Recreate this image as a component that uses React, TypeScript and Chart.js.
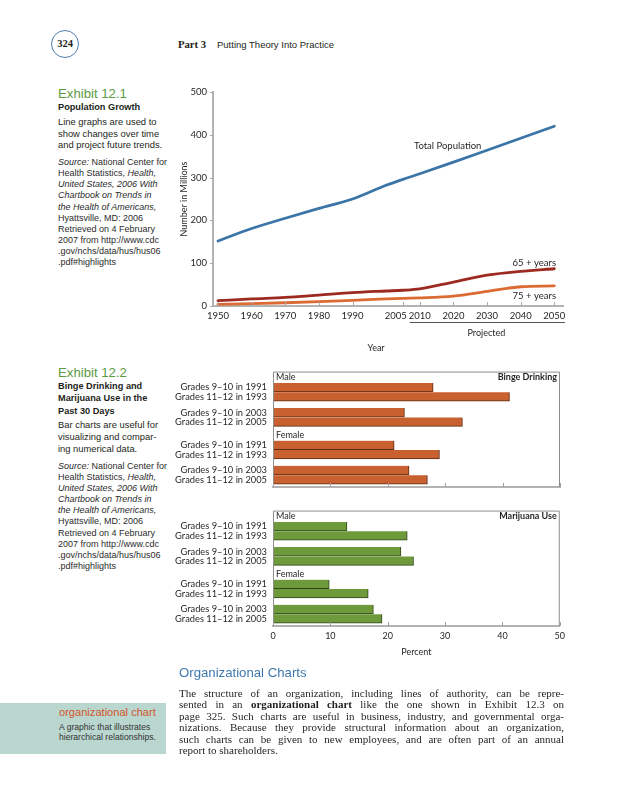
import React, { useEffect, useRef } from 'react';
import { Chart, registerables } from 'chart.js';

Chart.register(...registerables);

// ---------- Exhibit 12.1 data ----------
const YEARS = [1950, 1960, 1970, 1980, 1990, 2000, 2005, 2010, 2020, 2030, 2040, 2050];
const TOTAL_POP = [152, 181, 205, 228, 250, 282, 296, 309, 336, 364, 392, 420];
const AGE_65 = [12.4, 16.6, 20, 25.5, 31.2, 35, 36.8, 40, 56, 72, 81, 87];
const AGE_75 = [3.9, 5.6, 7.6, 10, 13.1, 16.6, 18, 19, 23, 34, 45, 47];
const YEAR_TICKS = [1950, 1960, 1970, 1980, 1990, 2005, 2010, 2020, 2030, 2040, 2050];
const POP_TICKS = [0, 100, 200, 300, 400, 500];

// ---------- Exhibit 12.2 data ----------
const GROUPS = ['Male', 'Female'];
const BAR_LABELS = [
  'Grades 9–10 in 1991',
  'Grades 11–12 in 1993',
  'Grades 9–10 in 2003',
  'Grades 11–12 in 2005',
  'Grades 9–10 in 1991',
  'Grades 11–12 in 1993',
  'Grades 9–10 in 2003',
  'Grades 11–12 in 2005',
];
const BINGE = [27.9, 41.2, 22.9, 33.0, 21.1, 29.0, 23.7, 26.9];
const MARIJUANA = [12.9, 23.4, 22.3, 24.5, 9.8, 16.6, 17.5, 19.0];
const PERCENT_TICKS = [0, 10, 20, 30, 40, 50];

// layout constants for the bar charts (in bar-pitch units)
const GROUP_STEP = 6.2;
const PAIR_STEP = 2.7;
const HEADER_OFFSET = 1.1;
const barPos = (i: number) =>
  Math.floor(i / 4) * GROUP_STEP + Math.floor((i % 4) / 2) * PAIR_STEP + (i % 2);

const TEXT = '#231f20';
const CHART_FONT = 'Lato';

const lineDecor = {
  id: 'lineDecor',
  afterDraw(chart: any) {
    const { ctx, chartArea: a, scales } = chart;
    const x = scales.x;
    const y = scales.y;
    ctx.save();
    ctx.strokeStyle = '#a9a9a9';
    ctx.lineWidth = 1;
    ctx.beginPath();
    x.ticks.forEach((t: any) => {
      const px = Math.round(x.getPixelForValue(t.value)) + 0.5;
      ctx.moveTo(px, a.bottom);
      ctx.lineTo(px, a.bottom - 4);
    });
    y.ticks.forEach((t: any) => {
      const py = Math.round(y.getPixelForValue(t.value)) + 0.5;
      ctx.moveTo(a.left - 3, py);
      ctx.lineTo(a.left + 1, py);
    });
    ctx.stroke();

    ctx.fillStyle = TEXT;
    ctx.font = `9.5px ${CHART_FONT}`;
    ctx.textBaseline = 'middle';
    ctx.textAlign = 'center';
    ctx.fillText('Total Population', x.getPixelForValue(2018.3), y.getPixelForValue(375));
    ctx.textAlign = 'right';
    ctx.fillText('65 + years', a.right - 7, y.getPixelForValue(101.5));
    ctx.fillText('75 + years', a.right - 7, y.getPixelForValue(23.4));

    // projected bracket
    const x0 = x.getPixelForValue(2007);
    const x1 = a.right + 2;
    ctx.strokeStyle = '#555';
    ctx.beginPath();
    ctx.moveTo(x0, a.bottom + 16.5);
    ctx.lineTo(x1, a.bottom + 16.5);
    ctx.stroke();
    ctx.font = `9px ${CHART_FONT}`;
    ctx.textAlign = 'center';
    ctx.fillText('Projected', (x0 + x1) / 2 - 1, a.bottom + 27);
    ctx.fillText('Year', x.getPixelForValue(1997), a.bottom + 42);
    ctx.restore();
  },
};

const barDecor = {
  id: 'barDecor',
  afterDatasetsDraw(chart: any, _args: any, opts: any) {
    const { ctx, chartArea: a, scales } = chart;
    const x = scales.x;
    const y = scales.y;
    ctx.save();
    ctx.strokeStyle = '#8e8e8e';
    ctx.lineWidth = 1;
    ctx.beginPath();
    ctx.moveTo(a.left + 0.5, a.bottom);
    ctx.lineTo(a.left + 0.5, a.top + 0.5);
    ctx.lineTo(a.right - 0.5, a.top + 0.5);
    ctx.lineTo(a.right - 0.5, a.bottom);
    ctx.stroke();
    ctx.strokeStyle = '#a0a0a0';
    ctx.beginPath();
    x.ticks.forEach((t: any) => {
      const px = Math.round(x.getPixelForValue(t.value)) + 0.5;
      ctx.moveTo(px, a.bottom);
      ctx.lineTo(px, a.bottom - 4);
    });
    ctx.stroke();
    ctx.fillStyle = TEXT;
    ctx.textBaseline = 'middle';
    ctx.font = `9px ${CHART_FONT}`;
    ctx.textAlign = 'left';
    GROUPS.forEach((g, gi) => {
      ctx.fillText(g, a.left + 3, y.getPixelForValue(gi * GROUP_STEP - HEADER_OFFSET));
    });
    ctx.font = `bold 9px ${CHART_FONT}`;
    ctx.textAlign = 'right';
    ctx.fillText(opts.title, a.right - 3, y.getPixelForValue(-HEADER_OFFSET));
    ctx.restore();
  },
};

function LineChart() {
  const ref = useRef<HTMLCanvasElement>(null);
  useEffect(() => {
    const mk = (vals: number[]) => YEARS.map((yr, i) => ({ x: yr, y: vals[i] }));
    const chart = new Chart(ref.current!, {
      type: 'line',
      data: {
        datasets: [
          { data: mk(TOTAL_POP), borderColor: '#3b75a8', borderWidth: 2.8 },
          { data: mk(AGE_65), borderColor: '#9d2a20', borderWidth: 2.8 },
          { data: mk(AGE_75), borderColor: '#dc6b33', borderWidth: 2.8 },
        ],
      },
      options: {
        animation: false,
        responsive: false,
        events: [],
        layout: { padding: { top: 12, right: 7, left: 0, bottom: 0 } },
        elements: {
          point: { radius: 0 },
          line: { tension: 0.3, cubicInterpolationMode: 'monotone', borderCapStyle: 'round' },
        },
        plugins: { legend: { display: false }, tooltip: { enabled: false } },
        scales: {
          x: {
            type: 'linear',
            min: 1948.51,
            max: 2052.59,
            afterBuildTicks: (s: any) => {
              s.ticks = YEAR_TICKS.map((v) => ({ value: v }));
            },
            afterFit: (s: any) => {
              s.height = 54;
            },
            ticks: {
              autoSkip: false,
              maxRotation: 0,
              padding: 4,
              color: TEXT,
              font: { family: CHART_FONT, size: 9.5 },
              callback: (v: any) => (v === 2005 ? '2005\u2003\u2003' : String(v)),
            },
            grid: { display: false, drawTicks: false },
            border: { display: true, color: '#b3b3b3', width: 2 },
          },
          y: {
            type: 'linear',
            min: 0,
            max: 500,
            afterBuildTicks: (s: any) => {
              s.ticks = POP_TICKS.map((v) => ({ value: v }));
            },
            afterFit: (s: any) => {
              s.width = 43;
            },
            ticks: {
              autoSkip: false,
              padding: 6,
              color: TEXT,
              font: { family: CHART_FONT, size: 9.5 },
            },
            title: {
              display: true,
              text: 'Number in Millions',
              color: TEXT,
              font: { family: CHART_FONT, size: 9 },
              padding: { top: 8.6, bottom: 0 },
            },
            grid: { display: false, drawTicks: false },
            border: { display: true, color: '#b3b3b3', width: 2 },
          },
        },
      } as any,
      plugins: [lineDecor],
    });
    return () => chart.destroy();
  }, []);
  return (
    <canvas
      ref={ref}
      width={400}
      height={280}
      style={{ position: 'absolute', left: 170, top: 80, width: 400, height: 280 }}
    />
  );
}

function BarChart(props: {
  values: number[];
  color: string;
  edge: string;
  title: string;
  showTicks: boolean;
  top: number;
  height: number;
  axisHeight: number;
}) {
  const ref = useRef<HTMLCanvasElement>(null);
  useEffect(() => {
    const positions = BAR_LABELS.map((_, i) => barPos(i));
    const chart = new Chart(ref.current!, {
      type: 'bar',
      data: {
        datasets: [
          {
            data: props.values.map((v, i) => ({ x: v, y: positions[i] })),
            backgroundColor: props.color,
            borderColor: props.edge,
            borderWidth: { top: 0, left: 0, right: 1, bottom: 1 },
            borderSkipped: false,
            barThickness: 9,
          },
        ],
      },
      options: {
        animation: false,
        responsive: false,
        events: [],
        indexAxis: 'y',
        layout: { padding: { top: 9, right: 10, left: 0, bottom: 0 } },
        plugins: {
          legend: { display: false },
          tooltip: { enabled: false },
          barDecor: { title: props.title },
        },
        scales: {
          x: {
            type: 'linear',
            min: 0,
            max: 50,
            afterBuildTicks: (s: any) => {
              s.ticks = PERCENT_TICKS.map((v) => ({ value: v }));
            },
            afterFit: (s: any) => {
              s.height = props.axisHeight;
            },
            ticks: {
              display: props.showTicks,
              autoSkip: false,
              maxRotation: 0,
              padding: 5,
              color: TEXT,
              font: { family: CHART_FONT, size: 9 },
            },
            title: {
              display: props.showTicks,
              text: 'Percent',
              color: TEXT,
              font: { family: CHART_FONT, size: 9 },
              padding: { top: 0, bottom: 1.6 },
            },
            grid: { display: false, drawTicks: false },
            border: { display: true, color: '#b3b3b3', width: 2 },
          },
          y: {
            type: 'linear',
            reverse: true,
            offset: false,
            min: -1.705,
            max: 10.69,
            afterBuildTicks: (s: any) => {
              s.ticks = positions.map((v) => ({ value: v }));
            },
            afterFit: (s: any) => {
              s.width = 103;
            },
            ticks: {
              autoSkip: false,
              padding: 6,
              color: TEXT,
              font: { family: CHART_FONT, size: 9.3 },
              callback: (_v: any, i: number) => BAR_LABELS[i],
            },
            grid: { display: false, drawTicks: false },
            border: { display: false },
          },
        },
      } as any,
      plugins: [barDecor],
    });
    return () => chart.destroy();
  }, []);
  return (
    <canvas
      ref={ref}
      width={400}
      height={props.height}
      style={{ position: 'absolute', left: 170, top: props.top, width: 400, height: props.height }}
    />
  );
}

const SANS = '"Liberation Sans", Arial, sans-serif';
const SERIF = '"Liberation Serif", "Times New Roman", serif';

function T(props: { x: number; y: number; size: number; children: any; style?: any }) {
  const lh = props.size * 1.2;
  return (
    <div
      style={{
        position: 'absolute',
        left: props.x,
        top: props.y - lh / 2,
        lineHeight: `${lh}px`,
        fontSize: props.size,
        whiteSpace: 'nowrap',
        fontFamily: SANS,
        color: TEXT,
        ...(props.style || {}),
      }}
    >
      {props.children}
    </div>
  );
}

function SourceBlock({ top }: { top: number }) {
  const lines: any[] = [
    <><i>Source:</i> National Center for</>,
    <>Health Statistics, <i>Health,</i></>,
    <i>United States, 2006 With</i>,
    <i>Chartbook on Trends in</i>,
    <i>the Health of Americans,</i>,
    <>Hyattsville, MD: 2006</>,
    <>Retrieved on 4 February</>,
    <>2007 from http://www.cdc</>,
    <>.gov/nchs/data/hus/hus06</>,
    <>.pdf#highlights</>,
  ];
  return (
    <>
      {lines.map((l, i) => (
        <T key={i} x={58} y={top + i * 11.15} size={9} style={{ color: '#2b2b2b' }}>
          {l}
        </T>
      ))}
    </>
  );
}

const PARAGRAPH: any[] = [
  <>The structure of an organization, including lines of authority, can be repre-</>,
  <>sented in an <b>organizational chart</b> like the one shown in Exhibit 12.3 on</>,
  <>page 325. Such charts are useful in business, industry, and governmental orga-</>,
  <>nizations. Because they provide structural information about an organization,</>,
  <>such charts can be given to new employees, and are often part of an annual</>,
  <>report to shareholders.</>,
];

export default function App() {
  useEffect(() => {
    document.body.style.margin = '0';
  }, []);
  return (
    <div style={{ position: 'absolute', left: 0, top: 0, width: 633, height: 800, background: '#fff', overflow: 'hidden' }}>
      {/* header */}
      <div
        style={{
          position: 'absolute',
          left: 51,
          top: 29.5,
          width: 26,
          height: 26,
          borderRadius: '50%',
          border: '1.5px solid #4d7eae',
          display: 'flex',
          alignItems: 'center',
          justifyContent: 'center',
          fontFamily: SERIF,
          fontWeight: 'bold',
          fontSize: 10.5,
          color: TEXT,
        }}
      >
        324
      </div>
      <T x={178} y={44.5} size={10.7} style={{ fontFamily: SERIF, fontWeight: 'bold' }}>Part 3</T>
      <T x={217} y={44.5} size={9.5}>Putting Theory Into Practice</T>

      {/* Exhibit 12.1 side text */}
      <T x={58} y={94} size={13.2} style={{ color: '#5c9b3f' }}>Exhibit 12.1</T>
      <T x={58} y={107.3} size={9.2} style={{ fontWeight: 'bold' }}>Population Growth</T>
      <T x={58} y={121.7} size={9.4}>Line graphs are used to</T>
      <T x={58} y={133.3} size={9.4}>show changes over time</T>
      <T x={58} y={145} size={9.4}>and project future trends.</T>
      <SourceBlock top={162.3} />

      {/* Exhibit 12.2 side text */}
      <T x={58} y={372.7} size={13.2} style={{ color: '#5c9b3f' }}>Exhibit 12.2</T>
      <T x={58} y={386.7} size={9.2} style={{ fontWeight: 'bold' }}>Binge Drinking and</T>
      <T x={58} y={399} size={9.2} style={{ fontWeight: 'bold' }}>Marijuana Use in the</T>
      <T x={58} y={411.2} size={9.2} style={{ fontWeight: 'bold' }}>Past 30 Days</T>
      <T x={58} y={424.3} size={9.4}>Bar charts are useful for</T>
      <T x={58} y={436.7} size={9.4}>visualizing and compar-</T>
      <T x={58} y={449} size={9.4}>ing numerical data.</T>
      <SourceBlock top={466} />

      <LineChart />
      <BarChart values={BINGE} color="#c8602f" edge="#5e2a12" title="Binge Drinking" showTicks={false} top={360} height={140} axisHeight={13} />
      <BarChart values={MARIJUANA} color="#6e9a3c" edge="#2e4418" title="Marijuana Use" showTicks={true} top={499} height={160} axisHeight={33} />

      {/* bottom section */}
      <T x={179} y={672.7} size={13.2} style={{ color: '#3f78ad' }}>Organizational Charts</T>
      <div style={{ position: 'absolute', left: 0, top: 703, width: 166, height: 51, background: '#bad7cf' }} />
      <T x={59} y={712.3} size={11.1} style={{ color: '#d2552b' }}>organizational chart</T>
      <T x={59} y={726.7} size={8.6} style={{ color: '#333' }}>A graphic that illustrates</T>
      <T x={59} y={737.3} size={8.6} style={{ color: '#333' }}>hierarchical relationships.</T>
      {PARAGRAPH.map((l, i) => (
        <div
          key={i}
          style={{
            position: 'absolute',
            left: 179,
            top: 693.5 + i * 11.45 - 6.6,
            width: 385,
            lineHeight: '13.2px',
            fontSize: 11,
            fontFamily: SERIF,
            color: TEXT,
            whiteSpace: 'nowrap',
            textAlign: i < PARAGRAPH.length - 1 ? 'justify' : 'left',
            textAlignLast: i < PARAGRAPH.length - 1 ? 'justify' : 'left',
          } as any}
        >
          {l}
        </div>
      ))}
    </div>
  );
}
